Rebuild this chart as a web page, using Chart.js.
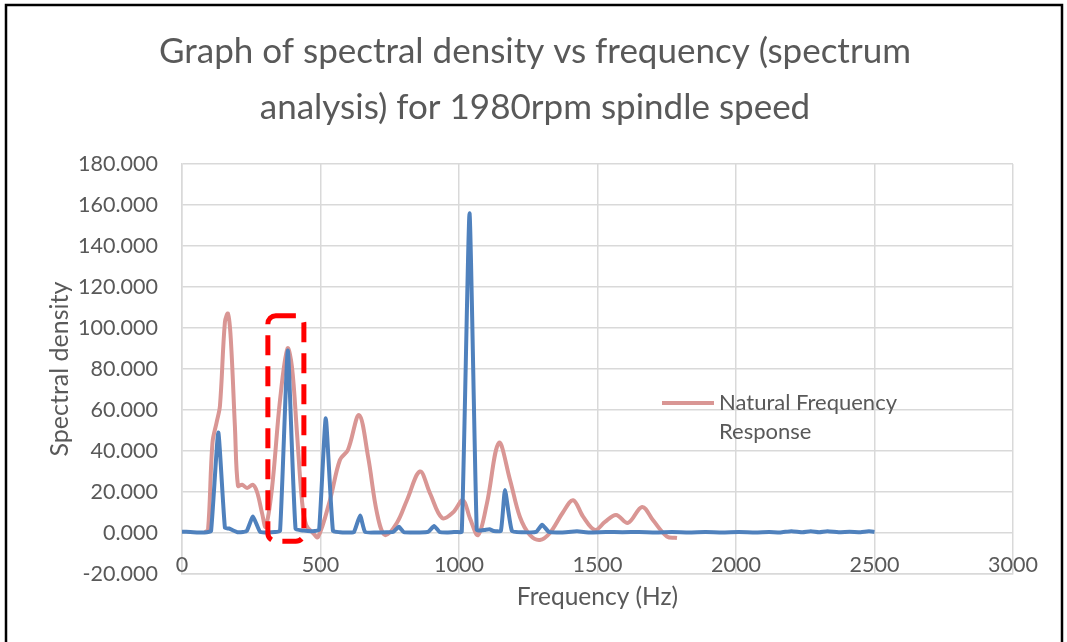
<!DOCTYPE html>
<html>
<head>
<meta charset="utf-8">
<title>Spectral density vs frequency</title>
<script src="https://cdn.jsdelivr.net/npm/chart.js@4.4.1/dist/chart.umd.min.js"></script>
<style>
  html, body { margin: 0; padding: 0; background: #fff; }
  #chart { display: block; }
</style>
</head>
<body>
<canvas id="chart" width="1067" height="642"></canvas>
<script>
// spectral density (blue) - frequency in Hz and value
const blueHz = [0, 30, 60, 90, 105, 131, 155, 170, 185, 200, 220, 234, 256, 282, 310, 335, 354, 382, 410, 440, 465, 480, 495, 519, 545, 570, 600, 621, 643, 661, 700, 740, 762, 783, 801, 850, 888, 910, 930, 960, 990, 1010, 1038, 1064, 1080, 1094, 1110, 1125, 1151, 1166, 1191, 1230, 1278, 1300, 1325, 1370, 1426, 1470, 1530, 1590, 1650, 1710, 1770, 1830, 1890, 1950, 2010, 2070, 2120, 2160, 2200, 2240, 2270, 2300, 2330, 2370, 2410, 2450, 2480, 2500];
const blueVal = [0.6, 0.5, 0.3, 0.4, 1, 49, 2.5, 2.2, 1.2, 0.4, 0.5, 1, 8, 0.5, 0.3, 0.5, 1, 89, 2, 1.2, 0.8, 1, 1.5, 56, 1, 0.4, 0.3, 0.5, 8.5, 0.5, 0.3, 0.4, 0.5, 3, 0.4, 0.3, 0.5, 3.4, 0.5, 0.3, 0.5, 0.6, 156, 1.5, 1.2, 1.5, 1.8, 1, 1, 21, 1, 0.4, 0.5, 4, 0.5, 0.3, 0.8, 0.3, 0.5, 0.4, 0.5, 0.3, 0.5, 0.3, 0.5, 0.3, 0.5, 0.3, 0.5, 0.3, 0.9, 0.4, 0.9, 0.4, 0.9, 0.4, 0.6, 0.4, 0.8, 0.5];

// natural frequency response (pink)
const pinkHz = [83, 94, 110, 125, 137, 155, 166, 176, 191, 202, 217, 235, 256, 271, 289, 302, 325, 354, 381, 397, 415, 433, 448, 473, 491, 534, 570, 599, 639, 672, 704, 733, 776, 812, 859, 895, 939, 978, 1014, 1040, 1069, 1101, 1144, 1184, 1220, 1256, 1292, 1328, 1375, 1412, 1448, 1491, 1527, 1567, 1610, 1661, 1700, 1751, 1787];
const pinkVal = [0.5, 1.5, 44, 54, 62, 103, 107, 95, 52, 23, 23.5, 22, 23.5, 20, 9.7, 3, 22, 65, 90, 81, 49, 16, 4, 0, -2, 16, 35.6, 40.5, 57.5, 37, 9.7, -1, 5, 16, 30, 19.5, 7.3, 10, 16, 7, -1, 14.6, 44, 26, 7.8, -1, -3.4, 0, 10, 16, 8, 1.5, 5.4, 8.8, 4.9, 12.7, 6.3, -1.8, -2.4];

const xTicks = [0, 500, 1000, 1500, 2000, 2500, 3000];
const yTicks = [-20, 0, 20, 40, 60, 80, 100, 120, 140, 160, 180];

// highlighted region (red dashed box), in data units
const boxHz = [310, 440];
const boxVal = [-4, 106];

const titleLines = ['Graph of spectral density vs frequency (spectrum', 'analysis) for 1980rpm spindle speed'];
const legendLines = ['Natural Frequency', 'Response'];

const FONT = 'Lato, "Open Sans", sans-serif';
const GREY = '#595959';
const BLUE = '#4f81bd';
const PINK = '#d99694';

function toPoints(xs, ys) {
  return xs.map((x, i) => ({ x: x, y: ys[i] }));
}

const decor = {
  id: 'decor',
  beforeDatasetsDraw(chart) {
    const ctx = chart.ctx;
    const xs = chart.scales.x;
    ctx.save();
    ctx.fillStyle = GREY;
    ctx.font = '35px ' + FONT;
    ctx.textAlign = 'center';
    ctx.textBaseline = 'alphabetic';
    ctx.fillText(titleLines[0], 535, 63);
    ctx.fillText(titleLines[1], 535, 119);
    // x tick labels sit just above the bottom axis line
    ctx.font = '21.5px ' + FONT;
    ctx.textBaseline = 'middle';
    xTicks.forEach(v => {
      ctx.fillText(String(v), xs.getPixelForValue(v), xs.top - 9);
    });
    ctx.restore();
  },
  afterDraw(chart) {
    const ctx = chart.ctx;
    const xs = chart.scales.x, ys = chart.scales.y;
    ctx.save();
    // red dashed box
    const l = xs.getPixelForValue(boxHz[0]), r = xs.getPixelForValue(boxHz[1]);
    const t = ys.getPixelForValue(boxVal[1]), b = ys.getPixelForValue(boxVal[0]);
    ctx.strokeStyle = '#ff0000';
    ctx.lineWidth = 5;
    ctx.setLineDash([20, 11]);
    ctx.beginPath();
    ctx.roundRect(l, t, r - l, b - t, 8);
    ctx.stroke();
    ctx.setLineDash([]);

    // legend
    ctx.strokeStyle = PINK;
    ctx.lineWidth = 4;
    ctx.beginPath();
    ctx.moveTo(662, 403);
    ctx.lineTo(714, 403);
    ctx.stroke();
    ctx.fillStyle = GREY;
    ctx.font = '22px ' + FONT;
    ctx.textAlign = 'left';
    ctx.textBaseline = 'middle';
    ctx.fillText(legendLines[0], 719, 403);
    ctx.fillText(legendLines[1], 719, 432);

    // outer frame
    ctx.strokeStyle = '#000';
    ctx.lineWidth = 2.5;
    ctx.beginPath();
    ctx.moveTo(6, 660);
    ctx.lineTo(6, 5);
    ctx.lineTo(1062, 5);
    ctx.lineTo(1062, 660);
    ctx.stroke();
    ctx.restore();
  }
};

new Chart(document.getElementById('chart').getContext('2d'), {
  type: 'scatter',
  data: {
    datasets: [
      {
        label: 'Spectral density',
        data: toPoints(blueHz, blueVal),
        showLine: true,
        borderColor: BLUE,
        backgroundColor: BLUE,
        borderWidth: 4,
        pointRadius: 0,
        tension: 0.15,
        borderJoinStyle: 'round'
      },
      {
        label: 'Natural Frequency Response',
        data: toPoints(pinkHz, pinkVal),
        showLine: true,
        borderColor: PINK,
        backgroundColor: PINK,
        borderWidth: 4,
        pointRadius: 0,
        tension: 0.35,
        borderJoinStyle: 'round'
      }
    ]
  },
  options: {
    responsive: false,
    animation: false,
    layout: { padding: { left: 45, right: 54, top: 164, bottom: 28 } },
    plugins: {
      legend: { display: false },
      title: { display: false },
      tooltip: { enabled: false }
    },
    scales: {
      x: {
        type: 'linear',
        min: 0,
        max: 3000,
        afterBuildTicks: s => { s.ticks = xTicks.map(v => ({ value: v })); },
        afterFit: s => { s.height = 40; },
        ticks: { display: false },
        grid: { color: '#d9d9d9', lineWidth: 1.5, drawTicks: false },
        border: { color: '#d9d9d9', width: 1.5 },
        title: {
          display: true,
          text: 'Frequency (Hz)',
          color: GREY,
          font: { family: FONT, size: 24.5 },
          padding: { top: 0, bottom: 2 }
        }
      },
      y: {
        min: -20,
        max: 180,
        afterBuildTicks: s => { s.ticks = yTicks.map(v => ({ value: v })); },
        afterFit: s => { s.width = 137; },
        ticks: {
          padding: 24,
          color: GREY,
          font: { family: FONT, size: 21.5 },
          callback: v => v.toFixed(3)
        },
        grid: { color: '#d9d9d9', lineWidth: 1.5, drawTicks: false },
        border: { color: '#d9d9d9', width: 1.5 },
        title: {
          display: true,
          text: 'Spectral density',
          color: GREY,
          font: { family: FONT, size: 25 },
          padding: { top: 0, bottom: 0 }
        }
      }
    }
  },
  plugins: [decor]
});
</script>
</body>
</html>
